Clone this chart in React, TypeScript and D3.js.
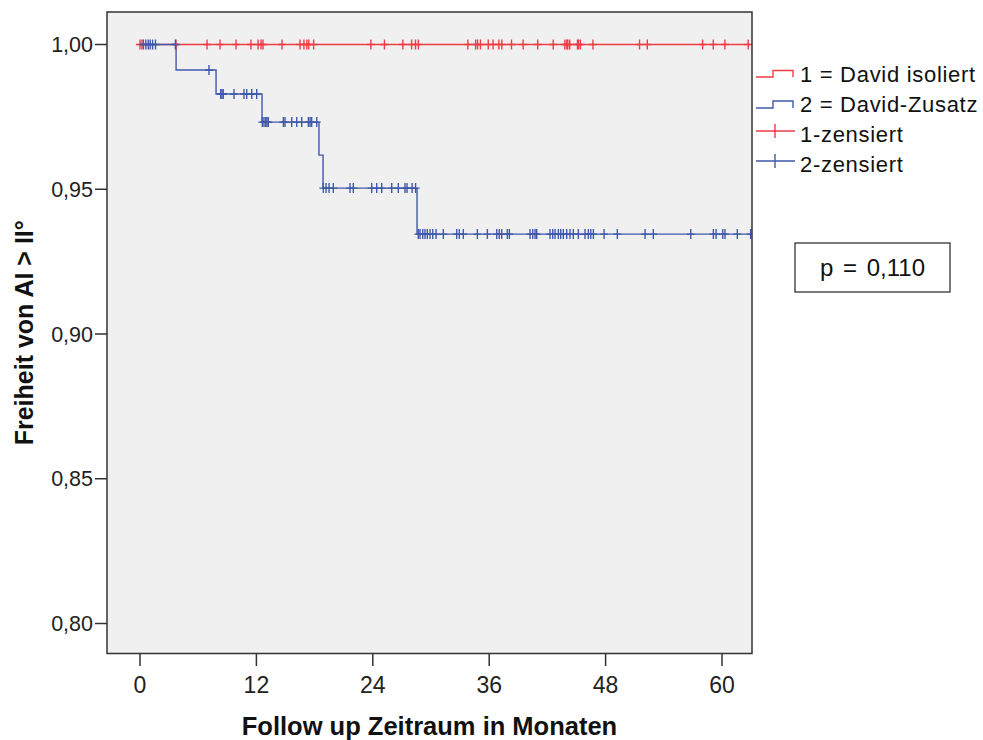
import React from "react";
import * as d3 from "d3";

// ---- data ----
const xTicks = [0, 12, 24, 36, 48, 60];
const yTicks = [0.8, 0.85, 0.9, 0.95, 1.0];
const yTickLabels = ["0,80", "0,85", "0,90", "0,95", "1,00"];

// Group 1 (David isoliert): no events
const g1EventTimes: number[] = [];
const g1Survival: number[] = [];
const g1LastTime = 62.9;
const g1Censored = [
  0.0, 0.2, 3.71, 6.91, 8.25, 9.9, 11.44, 12.17, 12.48, 12.68, 14.64, 16.5, 16.9, 17.2, 17.4, 17.9,
  23.8, 25.2, 27.1, 28.0, 28.4, 28.7, 33.8, 34.6, 34.8, 35.1, 35.9, 36.4, 37.0, 37.3, 38.3, 39.5,
  41.0, 42.6, 43.8, 44.0, 44.1, 44.3, 45.1, 45.2, 45.4, 46.7, 51.5, 52.3, 58.0, 59.1, 60.3, 62.7,
];

// Group 2 (David-Zusatz)
const g2EventTimes = [3.72, 7.84, 12.58, 18.45, 18.87, 28.56];
const g2Survival = [0.9912, 0.9829, 0.9732, 0.9618, 0.9504, 0.9345];
const g2LastTime = 63.0;
const g2Censored = [
  0.35, 0.6, 0.85, 1.05, 1.3, 1.6, 3.65,
  7.11,
  8.32, 8.45, 8.58, 9.69, 10.72, 11.0, 11.52, 12.03,
  12.61, 12.78, 12.96, 13.09, 13.23, 14.78, 14.95, 15.64, 16.16, 16.67, 17.36, 17.53, 17.7, 18.22,
  18.9, 19.18, 19.49, 19.93, 21.65, 21.99, 23.89, 24.4, 24.92, 25.95, 26.63, 27.32, 27.53, 28.05, 28.41,
  28.69, 28.87, 29.15, 29.38, 29.62, 29.9, 30.18, 30.52, 31.27, 32.65, 32.92, 33.33, 34.78, 35.81,
  36.78, 37.04, 37.29, 37.87, 38.08, 40.21, 40.49, 40.73, 40.9, 42.27, 42.55, 42.79, 43.13, 43.37,
  43.64, 43.99, 44.33, 44.67, 45.19, 45.88, 46.22, 46.47, 46.74, 47.84, 49.21, 52.07, 52.92, 56.78,
  59.11, 59.39, 60.08, 60.31, 61.58, 62.95,
];

const legendLabels = ["1 = David isoliert", "2 = David-Zusatz", "1-zensiert", "2-zensiert"];
const pValueLabel = "p = 0,110";
const xTitle = "Follow up Zeitraum in Monaten";
const yTitle = "Freiheit von AI > II°";

const RED = "#f03c46";
const BLUE = "#4058ab";
const FONT = "'Liberation Sans', Arial, sans-serif";

// ---- layout ----
const W = 983;
const H = 740;
const plot = { left: 107, right: 752, top: 12, bottom: 653.5 };

const x = d3.scaleLinear().domain([0, 60]).range([140, 722]);
const y = d3.scaleLinear().domain([0.8, 1.0]).range([623.5, 44.5]);

function survAt(times: number[], surv: number[], t: number) {
  let s = 1;
  for (let i = 0; i < times.length; i++) if (times[i] <= t) s = surv[i];
  return s;
}

function stepPath(times: number[], surv: number[], last: number) {
  let p = `M${x(0)},${y(1)}`;
  times.forEach((t, i) => {
    p += `H${x(t)}V${y(surv[i])}`;
  });
  p += `H${x(last)}`;
  return p;
}

function Censor({ cx, cy, color }: { cx: number; cy: number; color: string }) {
  return (
    <path
      d={`M${cx - 4},${cy}H${cx + 4}M${cx},${cy - 5}V${cy + 5}`}
      stroke={color}
      strokeWidth={1.4}
      fill="none"
    />
  );
}

export default function App() {
  return (
    <svg
      width={W}
      height={H}
      style={{ position: "absolute", left: 0, top: 0, background: "#fff" }}
      fontFamily={FONT}
    >
      <rect x={0} y={0} width={W} height={H} fill="#fff" />
      {/* plot background */}
      <rect
        x={plot.left}
        y={plot.top}
        width={plot.right - plot.left}
        height={plot.bottom - plot.top}
        fill="#f0f0f0"
      />

      {/* curves */}
      <g clipPath="url(#clip)">
        <defs>
          <clipPath id="clip">
            <rect x={plot.left} y={plot.top} width={plot.right - plot.left} height={plot.bottom - plot.top} />
          </clipPath>
        </defs>
        <path d={stepPath(g1EventTimes, g1Survival, g1LastTime)} stroke={RED} strokeWidth={1.4} fill="none" />
        <path d={stepPath(g2EventTimes, g2Survival, g2LastTime)} stroke={BLUE} strokeWidth={1.4} fill="none" />
        {g1Censored.map((t, i) => (
          <Censor key={"r" + i} cx={x(t)} cy={y(survAt(g1EventTimes, g1Survival, t))} color={RED} />
        ))}
        {g2Censored.map((t, i) => (
          <Censor key={"b" + i} cx={x(t)} cy={y(survAt(g2EventTimes, g2Survival, t))} color={BLUE} />
        ))}
      </g>

      {/* frame */}
      <rect
        x={plot.left}
        y={plot.top}
        width={plot.right - plot.left}
        height={plot.bottom - plot.top}
        fill="none"
        stroke="#333"
        strokeWidth={1.5}
      />

      {/* y axis */}
      {yTicks.map((v, i) => (
        <g key={"yt" + i}>
          <line x1={95} x2={plot.left} y1={y(v)} y2={y(v)} stroke="#333" strokeWidth={1.5} />
          <text x={93} y={y(v)} dy="0.36em" textAnchor="end" fontSize={21.5} fill="#222">
            {yTickLabels[i]}
          </text>
        </g>
      ))}

      {/* x axis */}
      {xTicks.map((v, i) => (
        <g key={"xt" + i}>
          <line x1={x(v)} x2={x(v)} y1={plot.bottom} y2={666} stroke="#333" strokeWidth={1.5} />
          <text x={x(v)} y={693} textAnchor="middle" fontSize={23} fill="#222">
            {String(v)}
          </text>
        </g>
      ))}

      {/* axis titles */}
      <text
        x={(plot.left + plot.right) / 2}
        y={735}
        textAnchor="middle"
        fontSize={25.5}
        fontWeight="bold"
        fill="#111"
      >
        {xTitle}
      </text>
      <text
        transform={`translate(33, ${(plot.top + plot.bottom) / 2}) rotate(-90)`}
        textAnchor="middle"
        fontSize={25}
        fontWeight="bold"
        fill="#111"
      >
        {yTitle}
      </text>

      {/* legend */}
      <g>
        <path d="M756,77H773V70.5H793V77" stroke={RED} strokeWidth={1.4} fill="none" />
        <path d="M756,108H773V101H793V108" stroke={BLUE} strokeWidth={1.4} fill="none" />
        <path d="M756,131H795M775,124V138" stroke={RED} strokeWidth={1.4} fill="none" />
        <path d="M756,161H795M775,154V168" stroke={BLUE} strokeWidth={1.4} fill="none" />
        {legendLabels.map((l, i) => (
          <text key={"lg" + i} x={800} y={82 + i * 30} fontSize={22} letterSpacing={0.7} fill="#111">
            {l}
          </text>
        ))}
      </g>

      {/* p-value box */}
      <rect x={795} y={243} width={155} height={49} fill="#fff" stroke="#333" strokeWidth={1.3} />
      <text x={872.5} y={276} textAnchor="middle" fontSize={24} wordSpacing={3} fill="#111" style={{ whiteSpace: "pre" }}>
        {pValueLabel}
      </text>
    </svg>
  );
}
